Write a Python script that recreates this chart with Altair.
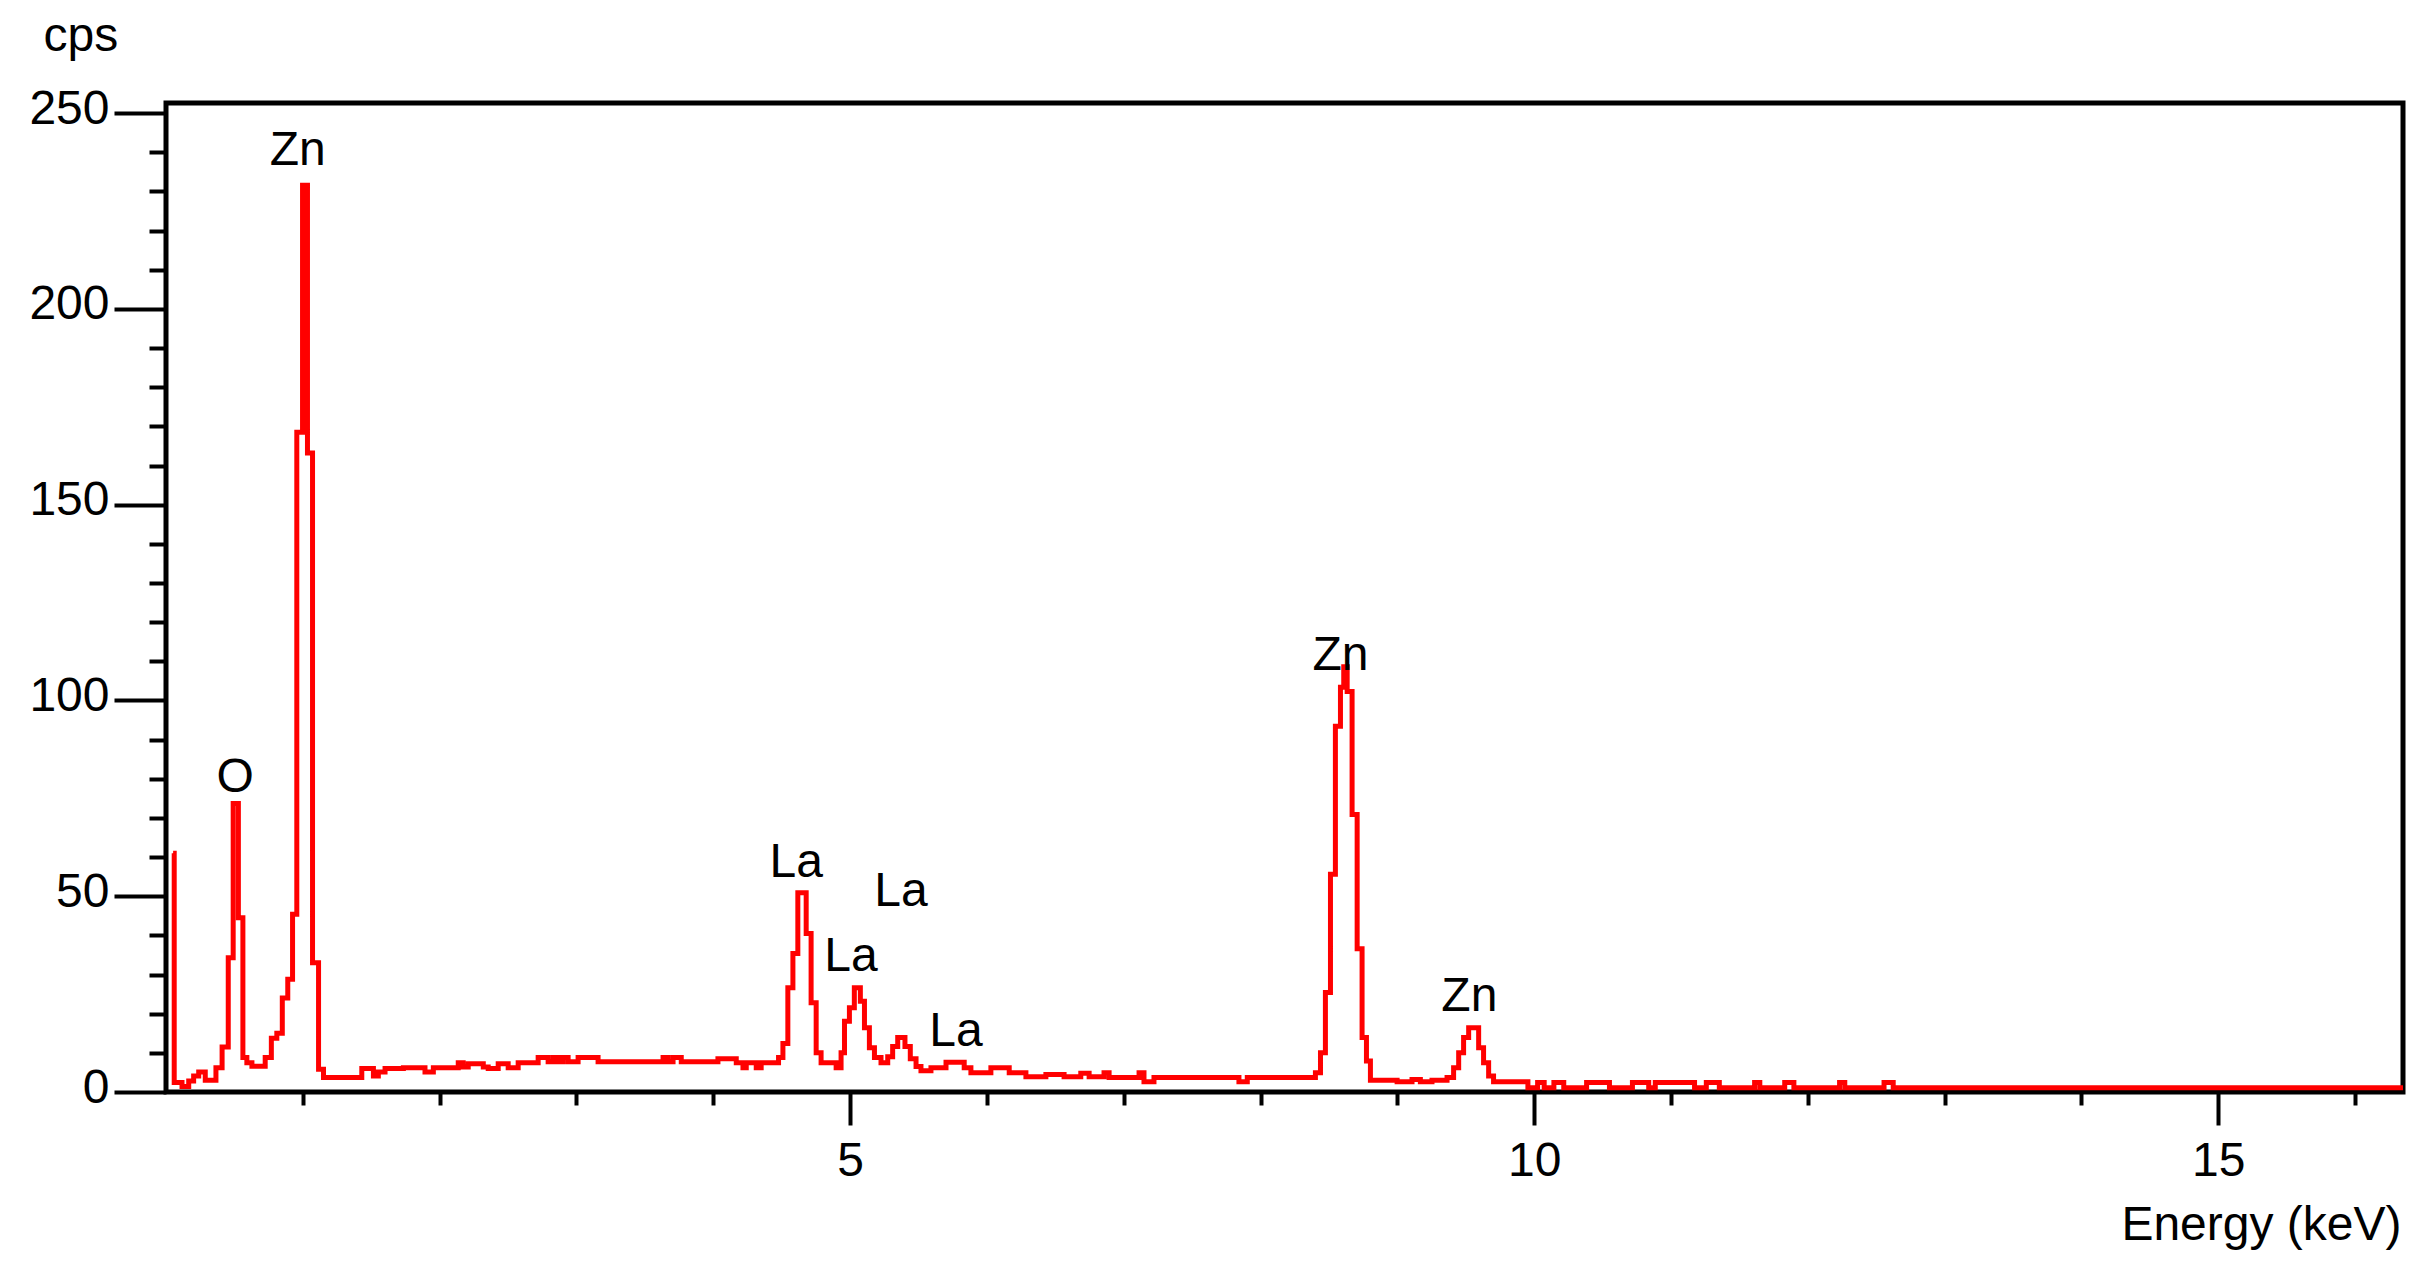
import altair as alt
import pandas as pd

# EDS spectrum: step start energy (keV) and counts (cps)
energy_kev = [
    0.052, 0.060, 0.117, 0.166, 0.202, 0.239, 0.287, 0.365, 0.410, 0.455,
    0.491, 0.529, 0.562, 0.591, 0.628, 0.725, 0.770, 0.810, 0.850, 0.890,
    0.925, 0.956, 0.998, 1.034, 1.071, 1.115, 1.151, 1.431, 1.516, 1.552,
    1.601, 1.735, 1.893, 1.954, 2.136, 2.172, 2.209, 2.319, 2.355, 2.428,
    2.501, 2.574, 2.720, 2.793, 2.830, 2.866, 2.902, 2.939, 3.012, 3.158,
    3.633, 3.669, 3.706, 3.766, 4.034, 4.168, 4.217, 4.241, 4.314, 4.350,
    4.477, 4.509, 4.545, 4.582, 4.618, 4.679, 4.715, 4.752, 4.788, 4.898,
    4.934, 4.959, 4.995, 5.031, 5.075, 5.105, 5.141, 5.178, 5.226, 5.275,
    5.311, 5.348, 5.401, 5.440, 5.482, 5.518, 5.591, 5.701, 5.834, 5.883,
    6.029, 6.163, 6.285, 6.431, 6.564, 6.686, 6.747, 6.856, 6.893, 7.112,
    7.148, 7.221, 7.842, 7.903, 8.401, 8.438, 8.474, 8.511, 8.547, 8.584,
    8.608, 8.633, 8.669, 8.706, 8.742, 8.774, 8.803, 8.998, 9.107, 9.168,
    9.253, 9.363, 9.411, 9.448, 9.484, 9.521, 9.594, 9.630, 9.667, 9.703,
    9.954, 10.025, 10.073, 10.144, 10.216, 10.383, 10.550, 10.718, 10.837, 10.885,
    11.172, 11.258, 11.353, 11.611, 11.649, 11.831, 11.898, 12.232, 12.270, 12.557,
    12.624, 16.35,
]
counts_cps = [
    61.0, 2.4, 1.4, 2.8, 4.1, 5.1, 3.0, 6.2, 11.5, 34.3,
    73.7, 44.5, 8.8, 7.5, 6.6, 8.8, 13.7, 15.0, 24.0, 28.8,
    45.4, 168.5, 231.6, 163.2, 33.0, 5.8, 3.7, 6.0, 4.1, 5.1,
    6.0, 6.2, 5.1, 6.2, 7.5, 6.4, 7.2, 6.4, 6.0, 7.2,
    6.2, 7.5, 8.8, 7.7, 8.8, 7.7, 8.8, 7.7, 8.8, 7.7,
    8.8, 7.7, 8.8, 7.7, 8.5, 7.5, 6.2, 7.5, 6.2, 7.5,
    8.8, 12.4, 26.6, 35.4, 50.9, 40.5, 22.8, 10.0, 7.5, 6.2,
    10.0, 18.1, 21.5, 26.6, 23.2, 16.4, 11.3, 8.8, 7.5, 9.0,
    11.6, 13.9, 11.6, 8.5, 6.5, 5.4, 6.2, 7.6, 6.2, 4.9,
    6.2, 4.9, 3.9, 4.5, 3.9, 4.8, 3.9, 4.9, 3.7, 4.9,
    2.6, 3.7, 2.6, 3.7, 4.9, 10.0, 25.4, 55.6, 93.4, 103.4,
    108.6, 102.3, 70.9, 36.6, 13.9, 7.9, 3.0, 2.6, 3.2, 2.6,
    3.0, 3.7, 6.2, 10.0, 13.9, 16.4, 11.3, 7.5, 4.1, 2.6,
    1.1, 2.4, 1.1, 2.4, 1.1, 2.4, 1.1, 2.4, 1.1, 2.4,
    1.1, 2.4, 1.1, 2.4, 1.1, 2.4, 1.1, 2.4, 1.1, 2.4,
    1.1, 1.1,
]

# Peak labels
label_text = ["O", "Zn", "La", "La", "La", "La", "Zn", "Zn"]
label_kev = [0.506, 0.963, 4.606, 5.007, 5.372, 5.774, 8.584, 9.526]
label_cps = [76.5, 236.8, 54.8, 30.8, 47.4, 11.7, 107.9, 20.7]

# Axis ticks
x_ticks = list(range(1, 17))
y_ticks = list(range(0, 251, 10))

spec = pd.DataFrame({"energy": energy_kev, "cps": counts_cps})
labels = pd.DataFrame({"text": label_text, "energy": label_kev, "cps": label_cps})

FONT = "Liberation Sans"
FS = 48

x_scale = alt.Scale(domain=[0, 16.35], nice=False, zero=False)
y_scale = alt.Scale(domain=[0, 252.6], nice=False)

x_axis = alt.Axis(
    values=x_ticks, tickCount=len(x_ticks) + 10, format="d",
    labelExpr="datum.value % 5 === 0 ? datum.label : ''",
    tickSize={"condition": {"test": "datum.value % 5 === 0", "value": 33}, "value": 13},
    tickWidth=4, tickColor="black", domain=False, grid=False,
    labelFont=FONT, labelFontSize=FS, labelColor="black", labelPadding=12,
    labelOverlap=False, labelFlush=False,
    title="Energy (keV)", titleFont=FONT, titleFontSize=FS, titleFontWeight="normal",
    titleColor="black", titleAlign="right", titleBaseline="alphabetic",
    titleX=2235, titleY=147,
)
y_axis = alt.Axis(
    values=y_ticks, tickCount=len(y_ticks) + 10, format="d",
    labelExpr="datum.value % 50 === 0 ? datum.label : ''",
    tickSize={"condition": {"test": "datum.value % 50 === 0", "value": 52}, "value": 17},
    tickWidth=4, tickColor="black", domain=False, grid=False,
    labelFont=FONT, labelFontSize=FS, labelColor="black", labelPadding=5,
    labelOffset=-4, labelOverlap=False, labelFlush=False,
    title="cps", titleFont=FONT, titleFontSize=FS, titleFontWeight="normal",
    titleColor="black", titleAngle=0, titleAlign="left", titleBaseline="alphabetic",
    titleX=-123, titleY=-53,
)

line = alt.Chart(spec).mark_line(
    interpolate="step-after", color="#ff0000", strokeWidth=5, clip=True
).encode(
    x=alt.X("energy:Q", scale=x_scale, axis=x_axis),
    y=alt.Y("cps:Q", scale=y_scale, axis=y_axis),
)

text = alt.Chart(labels).mark_text(
    font=FONT, fontSize=FS, color="black", align="center", baseline="alphabetic"
).encode(
    x=alt.X("energy:Q", scale=x_scale),
    y=alt.Y("cps:Q", scale=y_scale),
    text="text:N",
)

chart = (line + text).properties(
    width=2237,
    height=989,
    autosize=alt.AutoSizeParams(type="none"),
    padding={"left": 158, "top": 95, "right": 10, "bottom": 160},
    background="white",
).configure_view(stroke="black", strokeWidth=5)

chart.save("out.html", embed_options={"renderer": "svg", "actions": False})
